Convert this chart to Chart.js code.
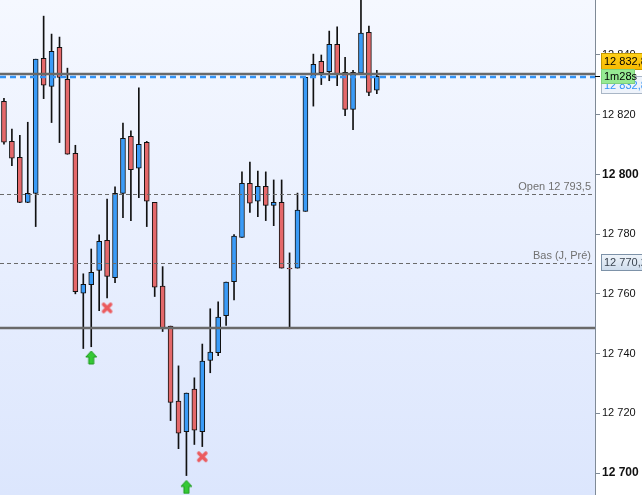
<!DOCTYPE html>
<html>
<head>
<meta charset="utf-8">
<script src="https://cdn.jsdelivr.net/npm/chart.js@4.4.1/dist/chart.umd.min.js"></script>
<style>
  html, body { margin: 0; padding: 0; background: #fff; }
</style>
</head>
<body>
<canvas id="chart" width="642" height="495"></canvas>
<script>
// candles, oldest first (open / high / low / close)
let opens  = [12824.4, 12811.0, 12805.7, 12790.6, 12793.6, 12838.8, 12829.4, 12842.5, 12831.8, 12807.0,
              12760.2, 12763.1, 12767.8, 12777.9, 12765.4, 12793.6, 12812.7, 12802.0, 12810.7, 12790.6,
              12762.6, 12749.2, 12724.1, 12713.9, 12728.1, 12713.9, 12737.7, 12740.3, 12752.7, 12764.1,
              12778.9, 12797.0, 12791.0, 12796.0, 12789.6, 12790.6, 12768.6, 12768.6, 12787.6, 12832.3,
              12837.8, 12834.3, 12843.5, 12834.1, 12821.7, 12833.8, 12847.5, 12828.1];
let highs  = [12825.4, 12815.1, 12813.0, 12817.4, 12838.5, 12852.9, 12846.9, 12845.9, 12835.5, 12809.7,
              12766.7, 12775.0, 12779.7, 12791.7, 12795.8, 12817.1, 12814.5, 12828.9, 12811.0, 12790.6,
              12769.1, 12749.2, 12735.9, 12726.8, 12731.9, 12743.2, 12755.0, 12757.3, 12763.9, 12779.8,
              12800.8, 12804.1, 12801.1, 12800.8, 12798.1, 12798.1, 12773.7, 12793.7, 12832.4, 12840.2,
              12839.9, 12847.9, 12849.3, 12839.1, 12834.8, 12860.0, 12849.6, 12834.8];
let lows   = [12810.1, 12802.9, 12790.5, 12790.5, 12782.5, 12825.3, 12817.3, 12810.6, 12806.7, 12760.0,
              12741.7, 12742.3, 12754.4, 12758.6, 12763.7, 12785.5, 12784.5, 12792.2, 12782.5, 12759.1,
              12747.4, 12717.6, 12708.2, 12699.2, 12709.6, 12708.9, 12733.6, 12739.3, 12749.4, 12758.0,
              12778.9, 12787.2, 12785.8, 12784.5, 12782.8, 12768.6, 12748.5, 12768.6, 12787.6, 12822.8,
              12830.0, 12831.3, 12829.6, 12819.6, 12814.9, 12833.8, 12826.3, 12827.0];
let closes = [12810.7, 12805.4, 12790.6, 12793.6, 12838.5, 12829.8, 12841.1, 12832.4, 12806.7, 12760.7,
              12763.2, 12767.2, 12777.6, 12765.8, 12793.6, 12812.0, 12801.5, 12810.0, 12791.0, 12762.2,
              12748.7, 12723.7, 12713.4, 12726.8, 12714.4, 12737.5, 12740.5, 12752.2, 12763.9, 12779.3,
              12797.0, 12790.3, 12796.0, 12789.6, 12790.6, 12768.6, 12768.3, 12788.0, 12832.4, 12836.8,
              12834.0, 12843.5, 12833.6, 12821.7, 12834.1, 12847.2, 12827.4, 12832.8];

let slotCount = 75;            // candles + empty space on the right
let yMin = 12692.7;
let yMax = 12858.3;
let yTicks = [12700, 12720, 12740, 12760, 12780, 12800, 12820, 12840];

// signals: [candle index, price]
let buySignals  = [[11, 12738.7], [23, 12695.4]];
let sellSignals = [[13, 12755.3], [25, 12705.5]];

let lastPrice = 12832.8;
let timer = "1m28s";
let openLevel = 12793.5;
let lowPrevDay = 12770.2;
let supportLines = [12833.4, 12748.6];

const RED = '#e4686a';
const BLUE = '#3a9bf7';
const FONT = "'Liberation Sans', Arial, sans-serif";

function fmt(v, dec) {
    let s = dec ? v.toFixed(dec) : String(Math.round(v));
    let parts = s.split('.');
    let int = parts[0].replace(/\B(?=(\d{3})+(?!\d))/g, ' ');
    return parts.length > 1 ? int + ',' + parts[1] : int;
}

function makeArrow() {
    let c = document.createElement('canvas');
    c.width = 13; c.height = 15;
    let x = c.getContext('2d');
    x.beginPath();
    x.moveTo(6.5, 1); x.lineTo(12, 7); x.lineTo(9, 7); x.lineTo(9, 14);
    x.lineTo(4, 14); x.lineTo(4, 7); x.lineTo(1, 7); x.closePath();
    x.fillStyle = '#35c935'; x.fill();
    x.strokeStyle = '#1e9a1e'; x.lineWidth = 1; x.stroke();
    return c;
}

function makeCross() {
    let c = document.createElement('canvas');
    c.width = 13; c.height = 13;
    let x = c.getContext('2d');
    x.strokeStyle = '#eb5b5e'; x.lineWidth = 3.6; x.lineCap = 'round';
    x.beginPath();
    x.moveTo(3, 3); x.lineTo(10, 10);
    x.moveTo(10, 3); x.lineTo(3, 10);
    x.stroke();
    return c;
}

let labels = [];
for (let i = 0; i < slotCount; i++) labels.push(i);

let bodies = opens.map((o, i) => [o, closes[i]]);
let wicks = lows.map((l, i) => [l, highs[i]]);
let bodyColors = opens.map((o, i) => closes[i] >= o ? BLUE : RED);

function signalData(list) {
    let d = new Array(slotCount).fill(null);
    list.forEach(s => d[s[0]] = s[1]);
    return d;
}

const bgPlugin = {
    id: 'bg',
    beforeDraw(chart) {
        const { ctx, chartArea: a } = chart;
        ctx.save();
        ctx.fillStyle = '#fff';
        ctx.fillRect(0, 0, chart.width, chart.height);
        let g = ctx.createLinearGradient(0, a.top, 0, a.bottom);
        g.addColorStop(0, '#f5f8ff');
        g.addColorStop(1, '#dce6fd');
        ctx.fillStyle = g;
        ctx.fillRect(a.left, a.top, a.right - a.left, a.bottom - a.top);
        ctx.restore();
    }
};

function hline(ctx, a, y, color, width, dash) {
    ctx.beginPath();
    ctx.strokeStyle = color;
    ctx.lineWidth = width;
    ctx.setLineDash(dash || []);
    ctx.moveTo(a.left, y);
    ctx.lineTo(a.right, y);
    ctx.stroke();
}

const levelsPlugin = {
    id: 'levels',
    afterDatasetsDraw(chart) {
        const { ctx, chartArea: a, scales } = chart;
        const y = v => scales.y.getPixelForValue(v);
        ctx.save();
        hline(ctx, a, Math.round(y(openLevel)) + 0.5, '#6a6a6a', 1, [4, 3]);
        hline(ctx, a, Math.round(y(lowPrevDay)) + 0.5, '#6a6a6a', 1, [4, 3]);
        supportLines.forEach(v => hline(ctx, a, Math.round(y(v)), '#696969', 2.5));
        hline(ctx, a, Math.round(y(lastPrice)) + 1, '#3393f5', 2.5, [6, 4]);
        ctx.setLineDash([]);

        ctx.font = '11px ' + FONT;
        ctx.fillStyle = '#707070';
        ctx.textAlign = 'right';
        ctx.textBaseline = 'alphabetic';
        ctx.fillText('Open ' + fmt(openLevel, 1), a.right - 4, Math.round(y(openLevel)) - 4);
        ctx.fillText('Bas (J, Pré)', a.right - 4, Math.round(y(lowPrevDay)) - 4);
        ctx.restore();
    },
    afterDraw(chart) {
        const { ctx, chartArea: a, scales } = chart;
        const x0 = a.right + 6;
        const py = Math.round(scales.y.getPixelForValue(lastPrice));
        ctx.save();
        ctx.font = '11px ' + FONT;
        ctx.textAlign = 'left';
        ctx.textBaseline = 'middle';

        // previous-day low box
        let ly = Math.round(scales.y.getPixelForValue(lowPrevDay));
        let g = ctx.createLinearGradient(0, ly - 8, 0, ly + 8);
        g.addColorStop(0, '#eef4fa'); g.addColorStop(1, '#cddcec');
        ctx.fillStyle = g;
        ctx.fillRect(x0 + 0.5, ly - 8.5, 60, 16);
        ctx.strokeStyle = '#7d92a8'; ctx.lineWidth = 1;
        ctx.strokeRect(x0 + 0.5, ly - 8.5, 60, 16);
        ctx.fillStyle = '#3a4450';
        ctx.fillText(fmt(lowPrevDay, 1), x0 + 3, ly);

        // last price (blue) box
        ctx.fillStyle = '#eef3fb';
        ctx.fillRect(x0 + 0.5, py + 0.5, 60, 17);
        ctx.strokeStyle = '#a9b6c6';
        ctx.strokeRect(x0 + 0.5, py + 0.5, 60, 17);
        ctx.fillStyle = '#3393f5';
        ctx.fillText(fmt(lastPrice, 1), x0 + 3, py + 10);

        // yellow price box
        g = ctx.createLinearGradient(0, py - 23, 0, py - 6);
        g.addColorStop(0, '#ffd21a'); g.addColorStop(1, '#f6b800');
        ctx.fillStyle = g;
        ctx.fillRect(x0 + 0.5, py - 22.5, 60, 16);
        ctx.strokeStyle = '#c49a00';
        ctx.strokeRect(x0 + 0.5, py - 22.5, 60, 16);
        ctx.fillStyle = '#000';
        ctx.fillText(fmt(lastPrice, 1), x0 + 3, py - 14);

        // timer box
        ctx.fillStyle = '#96ea93';
        ctx.fillRect(x0 + 0.5, py - 6.5, 33, 14);
        ctx.strokeStyle = '#7fd07c';
        ctx.strokeRect(x0 + 0.5, py - 6.5, 33, 14);
        ctx.fillStyle = '#000';
        ctx.fillText(timer, x0 + 3, py + 0.5);

        // tick for current price
        ctx.strokeStyle = '#000';
        ctx.beginPath();
        ctx.moveTo(a.right, py + 0.5); ctx.lineTo(a.right + 5, py + 0.5);
        ctx.stroke();
        ctx.restore();
    }
};

new Chart(document.getElementById('chart'), {
    type: 'bar',
    data: {
        labels: labels,
        datasets: [
            {
                type: 'line',
                data: signalData(buySignals),
                showLine: false,
                pointStyle: makeArrow(),
                pointRadius: 7,
                order: 0
            },
            {
                type: 'line',
                data: signalData(sellSignals),
                showLine: false,
                pointStyle: makeCross(),
                pointRadius: 7,
                order: 0
            },
            {
                data: bodies,
                backgroundColor: bodyColors,
                borderColor: '#111',
                borderWidth: 1,
                borderSkipped: false,
                barThickness: 5,
                grouped: false,
                order: 1
            },
            {
                data: wicks,
                backgroundColor: '#111',
                borderWidth: 0,
                barThickness: 1,
                grouped: false,
                order: 2
            }
        ]
    },
    options: {
        responsive: false,
        animation: false,
        layout: { padding: 0, autoPadding: false },
        plugins: {
            legend: { display: false },
            tooltip: { enabled: false }
        },
        scales: {
            x: {
                type: 'category',
                display: false,
                offset: true,
                grid: { display: false }
            },
            y: {
                position: 'right',
                min: yMin,
                max: yMax,
                afterBuildTicks: s => { s.ticks = yTicks.map(v => ({ value: v })); },
                afterFit: s => { s.width = 47; s.paddingTop = 0; s.paddingBottom = 0; },
                grid: { drawOnChartArea: false, drawTicks: true, tickLength: 5, color: '#7f8a96' },
                border: { display: true, color: '#7f8a96', width: 1 },
                ticks: {
                    padding: 2,
                    color: '#111',
                    font: ctx => ({
                        family: FONT,
                        size: ctx.tick && ctx.tick.value % 100 === 0 ? 12 : 11,
                        weight: ctx.tick && ctx.tick.value % 100 === 0 ? 'bold' : 'normal'
                    }),
                    callback: v => fmt(v)
                }
            }
        }
    },
    plugins: [bgPlugin, levelsPlugin]
});
</script>
</body>
</html>
